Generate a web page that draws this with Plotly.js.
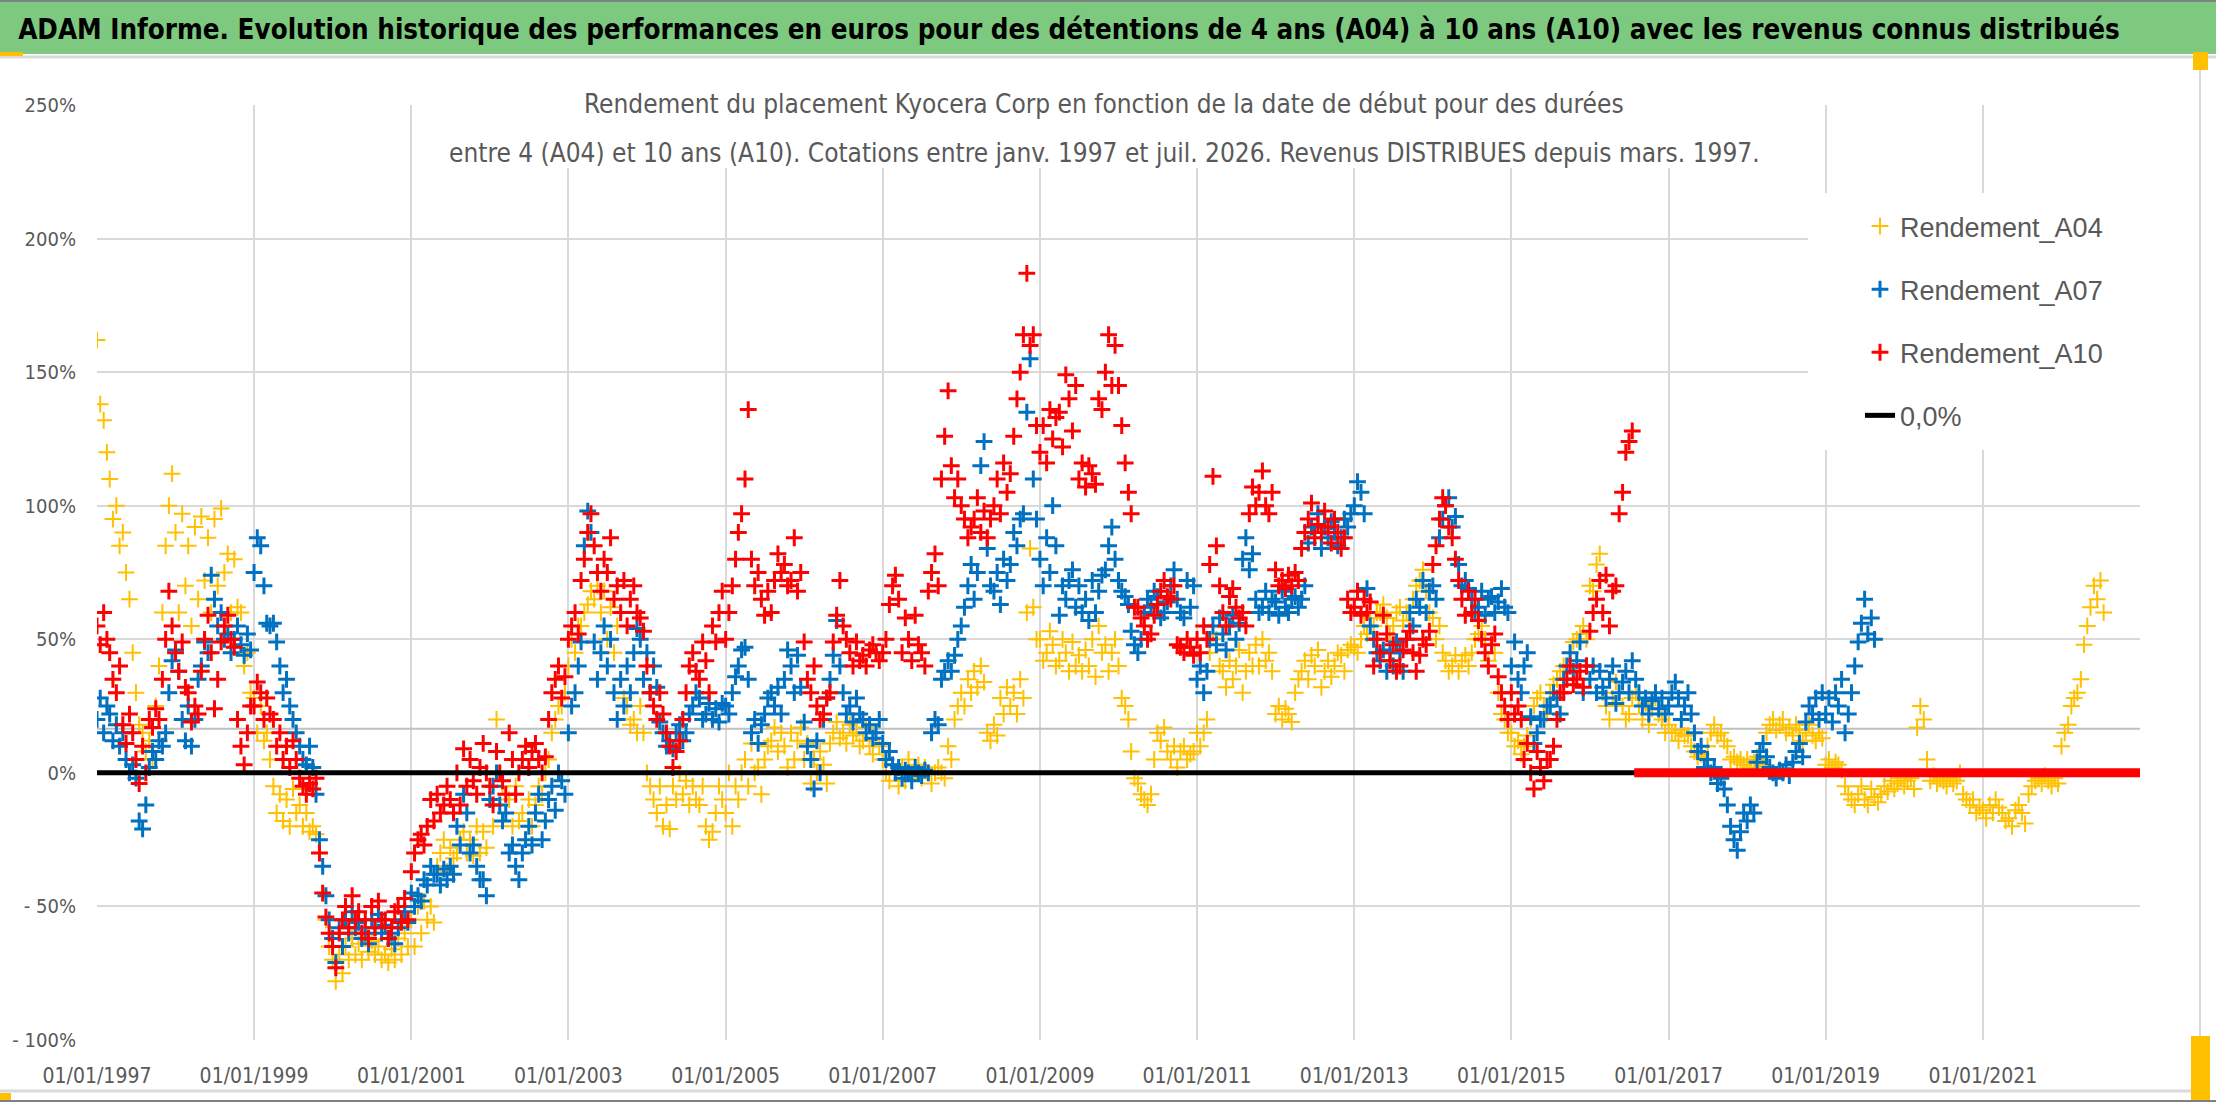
<!DOCTYPE html>
<html>
<head>
<meta charset="utf-8">
<script src="https://cdn.plot.ly/plotly-3.0.1.min.js"></script>
<style>
  html, body { margin: 0; padding: 0; background: #ffffff; }
  #chart { width: 2216px; height: 1102px; }
</style>
</head>
<body>
<div id="chart"></div>
<script>
// Rendement (%), two readings per month (1st and 16th), from janv. 1997
const a04Values = [
  162,138,132,120,110,95,100,85,90,75,65,45,30,18,15,8,12,5,25,40,60,85,100,112,
  90,60,97,70,85,55,92,65,96,72,88,60,95,70,99,75,82,60,80,62,60,40,45,30,
  28,15,25,12,15,5,-5,-15,-8,-18,-10,-20,-6,-15,-12,-20,-15,-22,-20,-23,-30,-45,-55,-65,
  -70,-78,-68,-75,-65,-70,-62,-68,-64,-70,-62,-67,-63,-68,-65,-70,-68,-71,-66,-70,-62,-68,-60,-65,
  -55,-65,-50,-60,-48,-55,-50,-56,-35,-30,-25,-37,-28,-32,-30,-25,-22,-30,-25,-31,-20,-30,-22,-28,
  -10,-20,20,0,-5,-15,-10,-20,-5,-18,-15,-25,-10,-20,-12,-5,-8,0,5,15,20,25,25,30,
  40,50,45,55,55,60,63,68,65,70,60,68,50,62,45,55,35,28,25,18,20,15,25,15,
  0,-5,-10,-15,-5,-20,-12,-21,-5,-10,0,-8,-3,-12,-5,-10,-12,-5,-20,-25,-22,-15,-5,-10,
  -15,0,-20,-5,-10,0,5,-5,11,0,2,-8,5,10,12,17,8,15,10,2,15,5,12,17,
  5,11,-4,5,0,8,3,-4,11,15,19,13,15,11,18,14,15,10,12,17,10,7,15,10,
  5,0,-3,3,0,-5,2,-3,5,-2,0,3,-2,2,0,-4,0,2,0,-2,10,5,20,25,
  30,25,35,30,38,32,40,34,15,12,18,14,28,22,32,25,30,22,35,28,60,84,62,50,
  50,42,45,53,48,40,42,50,45,38,49,40,44,38,46,40,50,36,55,45,48,38,45,50,
  40,28,25,20,8,-2,-4,-8,-10,-12,-8,5,15,12,17,8,5,10,2,8,10,5,7,8,
  15,10,15,20,45,52,50,40,38,32,42,35,40,46,30,38,45,40,48,40,50,42,45,38,
  22,25,20,24,22,19,30,35,38,42,35,44,40,46,32,38,42,36,40,45,44,38,46,48,
  47,45,50,55,52,58,55,60,60,63,58,52,55,60,62,57,60,55,65,70,72,76,68,60,
  58,50,55,45,42,38,40,44,38,42,44,40,45,50,52,55,50,42,48,45,30,22,20,15,
  15,10,12,7,10,14,20,25,28,30,25,22,30,33,35,38,40,35,45,49,50,52,55,50,
  70,68,78,82,30,25,20,28,34,30,25,20,22,28,30,25,20,26,18,24,28,22,20,15,
  18,15,15,12,16,14,14,10,8,6,7,5,10,15,18,14,15,12,10,5,6,4,5,3,
  5,2,4,6,5,3,15,18,20,16,18,20,15,17,14,18,16,12,15,18,14,12,15,13,
  3,5,2,4,3,1,-5,-8,-10,-12,-8,-5,-10,-12,-6,-9,-11,-8,-5,-7,-3,-6,-4,-2,
  -5,-3,-2,-6,17,25,20,5,-3,-1,-4,-2,-3,-5,-2,-4,-3,0,-8,-10,-12,-10,-15,-13,
  -14,-17,-12,-15,-10,-13,-15,-18,-17,-20,-14,-12,-15,-19,-8,-5,-3,-2,-4,-1,-3,-5,-2,-4,
  10,15,18,25,28,30,35,48,55,62,70,65,72,60
];

const a07Values = [
  20,28,15,25,22,12,18,10,15,5,0,3,-2,-18,-21,-12,2,8,5,12,10,15,30,42,
  46,38,20,12,25,10,20,35,40,49,45,74,65,55,60,50,52,45,50,55,48,44,52,46,
  75,88,85,70,56,55,56,49,40,30,35,25,20,15,10,5,3,10,2,-8,-25,-35,-46,-55,
  -62,-71,-58,-65,-55,-60,-52,-58,-56,-62,-60,-64,-55,-58,-53,-60,-57,-62,-60,-64,-58,-55,-52,-56,
  -45,-50,-46,-48,-40,-42,-35,-38,-38,-42,-36,-40,-35,-38,-20,-27,-8,-15,-30,-27,-35,-40,-40,-46,
  -10,-5,0,-12,-18,-15,-30,-27,-35,-40,-30,-25,-20,-27,-15,-8,-25,-18,-10,-5,-14,0,-3,-8,
  15,25,30,40,49,85,98,90,49,35,45,55,40,50,30,20,35,25,40,30,45,54,50,35,
  45,30,40,32,19,15,10,12,9,15,18,12,15,22,25,30,28,20,22,26,20,24,19,26,
  25,22,30,36,40,46,47,35,15,20,11,18,22,28,30,25,32,22,35,46,40,30,44,32,
  19,10,5,-6,12,0,20,28,35,44,57,40,30,22,25,19,28,22,20,15,18,13,15,20,
  11,5,8,3,0,2,-2,1,0,-3,2,0,-1,1,0,15,20,18,35,38,42,38,44,50,
  55,62,70,78,65,75,115,124,84,70,68,75,63,80,72,78,90,85,95,97,135,155,110,95,
  80,70,88,75,100,85,59,70,65,72,76,62,70,60,65,57,72,60,68,74,76,85,92,80,
  72,68,66,63,53,48,45,50,60,65,62,68,66,58,60,64,70,76,65,60,58,72,62,70,
  35,40,30,38,50,55,48,58,52,46,55,59,50,56,80,88,76,82,65,60,62,68,60,65,
  64,59,68,62,60,65,66,62,65,70,86,92,90,97,84,92,88,94,90,85,88,95,92,97,
  100,109,105,97,69,55,50,45,42,46,38,45,40,49,45,38,50,60,55,65,62,72,60,68,
  70,65,88,95,100,103,92,96,78,70,72,69,65,60,62,68,59,65,66,60,64,69,62,60,
  40,49,35,30,40,45,21,11,15,20,20,25,25,30,28,22,35,40,45,38,42,49,30,40,
  35,40,30,38,32,28,35,40,26,30,34,38,30,42,35,30,25,28,22,27,30,24,28,22,
  25,30,34,28,20,25,30,22,15,8,10,2,5,0,2,-4,-2,-6,-12,-20,-25,-29,-22,-15,
  -18,-12,-15,4,8,11,6,2,0,-2,1,0,3,-1,4,8,11,6,19,25,22,28,20,30,
  22,28,19,30,25,35,15,22,30,40,49,56,65,52,58,50
];

const a10Values = [
  55,48,60,50,45,35,30,40,18,11,22,15,5,-4,10,0,20,17,24,20,35,50,68,55,
  45,38,49,32,30,19,25,22,38,50,59,45,24,35,49,55,59,50,47,20,10,3,15,25,
  25,34,30,20,28,22,20,10,15,5,10,2,12,5,-2,-5,-8,-4,-6,-2,-30,-45,-54,-60,
  -65,-73,-60,-55,-50,-58,-46,-55,-52,-60,-55,-62,-50,-58,-48,-55,-55,-62,-58,-52,-50,-56,-47,-55,
  -37,-30,-25,-23,-27,-20,-10,-18,-8,-15,-12,-5,-10,-15,0,-12,9,-5,5,-3,-8,2,11,0,
  -5,-12,8,0,-3,-8,15,5,-8,0,5,10,2,8,11,5,0,6,20,30,35,40,28,36,
  50,55,60,52,72,80,90,97,85,75,68,80,75,88,65,70,60,72,55,65,70,60,58,53,
  40,30,25,20,30,22,15,10,2,8,12,20,30,40,45,38,35,49,42,30,55,49,60,68,
  50,60,70,80,90,97,110,136,80,70,75,65,59,68,60,72,82,75,78,70,72,88,68,75,
  49,35,30,40,25,20,22,28,30,49,59,72,55,50,45,40,49,42,44,40,46,48,45,42,
  45,50,63,70,74,65,45,58,50,42,59,48,45,40,68,75,82,70,110,126,143,115,103,110,
  100,95,88,92,95,103,90,98,88,95,100,110,97,116,105,112,126,140,150,164,187,160,164,130,
  120,130,116,136,125,133,135,122,149,140,128,145,110,116,107,115,112,108,140,136,150,164,145,160,
  145,130,116,105,97,62,62,58,55,50,52,59,63,68,72,66,65,70,48,47,45,50,47,44,
  50,45,55,50,78,111,85,70,60,55,66,69,62,58,60,55,97,107,100,105,113,100,97,105,
  76,70,72,69,74,70,75,72,84,90,95,101,88,93,90,98,92,86,95,90,84,88,65,60,
  62,68,59,65,60,64,40,50,45,59,52,42,48,38,40,46,50,53,45,38,44,50,48,53,
  78,85,95,103,100,92,88,80,72,65,59,68,60,65,57,50,45,40,48,52,36,30,25,20,
  30,22,25,20,5,11,0,-6,8,2,-3,5,5,10,20,30,30,35,40,33,35,38,32,40,
  53,60,65,72,60,74,55,68,70,97,105,120,124,128
];

// after juil. 2016 the 10-year return is shown at 0
const a10ZeroDates = ['2016-07-25', '2023-01-01'];
const a10ZeroValues = [0, 0];

const zeroDates = ['1997-01-01', '2023-01-01'];
const zeroValues = [0, 0];

// grey level line across the plot
const levelDates = ['1997-01-01', '2023-01-01'];
const levelValues = [16.5, 16.5];

const xTickYears = [1997, 1999, 2001, 2003, 2005, 2007, 2009, 2011, 2013, 2015, 2017, 2019, 2021];
const yTickValues = [-100, -50, 0, 50, 100, 150, 200, 250];
const yTickLabels = ['- 100%', '- 50%', '0%', '50%', '100%', '150%', '200%', '250%'];

const NARROW = '"Liberation Sans Narrow", "Arial Narrow", "DejaVu Sans Condensed", sans-serif';
const GREY_TEXT = '#595959';

// plot area in page pixels
const PLOT = { left: 97, right: 2140, top: 105, bottom: 1040 };
const W = 2216, H = 1102;
const px = (x) => (x - PLOT.left) / (PLOT.right - PLOT.left);
const py = (y) => (PLOT.bottom - y) / (PLOT.bottom - PLOT.top);

const halfMonthDates = (startYear, count) => {
    const dates = [];
    for (let i = 0; i < count; i++) {
        const m = Math.floor(i / 2);
        const year = startYear + Math.floor(m / 12);
        const month = String(m % 12 + 1).padStart(2, '0');
        dates.push(`${year}-${month}-${i % 2 ? '16' : '01'}`);
    }
    return dates;
};

const crossSeries = (name, values, color, width) => ({
    type: 'scatter',
    mode: 'markers',
    name: name,
    legendgroup: name,
    x: halfMonthDates(1997, values.length),
    y: values,
    marker: { symbol: 'cross-thin', size: 12, color: color, line: { color: color, width: width } },
    hoverinfo: 'x+y'
});

const data = [
    {
        type: 'scatter', mode: 'lines', x: levelDates, y: levelValues,
        line: { color: '#bfbfbf', width: 2 }, showlegend: false, hoverinfo: 'skip'
    },
    crossSeries('Rendement_A04', a04Values, '#FFC000', 2),
    crossSeries('Rendement_A07', a07Values, '#0070C0', 3),
    crossSeries('Rendement_A10', a10Values, '#FF0000', 3),
    {
        type: 'scatter', mode: 'lines', name: '0,0%', legendgroup: 'zero',
        x: zeroDates, y: zeroValues, line: { color: '#000000', width: 5 }
    },
    {
        type: 'scatter', mode: 'lines', x: a10ZeroDates, y: a10ZeroValues,
        line: { color: '#FF0000', width: 9 }, showlegend: false, hoverinfo: 'skip'
    }
];

const rect = (x0, y0, x1, y1, fill) => ({
    type: 'rect', xref: 'paper', yref: 'paper', layer: 'above',
    x0: px(x0), x1: px(x1), y0: py(y1), y1: py(y0),
    fillcolor: fill, line: { width: 0 }
});
const hline = (x0, x1, y, color, width) => ({
    type: 'line', xref: 'paper', yref: 'paper', layer: 'above',
    x0: px(x0), x1: px(x1), y0: py(y), y1: py(y), line: { color: color, width: width }
});
const vline = (x, y0, y1, color, width) => ({
    type: 'line', xref: 'paper', yref: 'paper', layer: 'above',
    x0: px(x), x1: px(x), y0: py(y0), y1: py(y1), line: { color: color, width: width }
});

const layout = {
    width: W,
    height: H,
    margin: { l: PLOT.left, r: W - PLOT.right, t: PLOT.top, b: H - PLOT.bottom, autoexpand: false },
    paper_bgcolor: '#ffffff',
    plot_bgcolor: '#ffffff',
    showlegend: true,
    title: {
        text: '<b>ADAM Informe. Evolution historique des performances en euros pour des détentions de 4 ans (A04) à 10 ans (A10) avec les revenus connus distribués</b>',
        x: 1069 / W, xanchor: 'center',
        y: 1 - 29 / H, yanchor: 'middle',
        font: { family: NARROW, size: 27.5, color: '#000000' }
    },
    xaxis: {
        type: 'date',
        range: ['1997-01-01', '2023-01-01'],
        tickmode: 'array',
        tickvals: xTickYears.map(y => `${y}-01-01`),
        ticktext: xTickYears.map(y => `01/01/${y}`),
        showgrid: true, gridcolor: '#d9d9d9', gridwidth: 2,
        zeroline: false, showline: false,
        ticks: 'outside', ticklen: 17, tickcolor: 'rgba(0,0,0,0)',
        tickfont: { family: NARROW, size: 21, color: GREY_TEXT }
    },
    yaxis: {
        range: [-100, 250],
        tickmode: 'array',
        tickvals: yTickValues,
        ticktext: yTickLabels,
        showgrid: true, gridcolor: '#d9d9d9', gridwidth: 2,
        zeroline: false, showline: false,
        ticks: 'outside', ticklen: 16, tickcolor: 'rgba(0,0,0,0)',
        tickfont: { family: NARROW, size: 20, color: GREY_TEXT }
    },
    legend: {
        x: px(1860), xanchor: 'left',
        y: py(202), yanchor: 'top',
        bgcolor: 'rgba(0,0,0,0)',
        traceorder: 'grouped',
        tracegroupgap: 25,
        font: { family: '"Liberation Sans", Arial, sans-serif', size: 27, color: GREY_TEXT }
    },
    annotations: [
        {
            xref: 'paper', yref: 'paper', x: px(1104), y: py(104),
            xanchor: 'center', yanchor: 'middle', showarrow: false,
            text: 'Rendement du placement Kyocera Corp en fonction de la date de début pour des durées',
            font: { family: NARROW, size: 26, color: GREY_TEXT }
        },
        {
            xref: 'paper', yref: 'paper', x: px(1104), y: py(153),
            xanchor: 'center', yanchor: 'middle', showarrow: false,
            text: 'entre 4 (A04) et 10 ans (A10). Cotations entre janv. 1997 et juil. 2026. Revenus DISTRIBUES depuis mars. 1997.',
            font: { family: NARROW, size: 26, color: GREY_TEXT }
        }
    ],
    shapes: [
        // header band
        rect(0, 0, W, 54, '#7DC97F'),
        hline(0, W, 1, '#808080', 2),
        hline(0, W, 57, '#d9d9d9', 3),
        // chart frame
        vline(2200, 57, 1092, '#d9d9d9', 2),
        hline(0, 2200, 1091, '#d9d9d9', 3),
        hline(0, W, 1101, '#808080', 2),
        // white boxes behind the subtitle and the legend
        rect(442, 92, 1765, 168, '#ffffff'),
        rect(1808, 193, 2140, 450, '#ffffff'),
        // selection handles
        rect(0, 52, 23, 56, '#FFC000'),
        rect(0, 1093, 11, 1100, '#FFC000'),
        rect(2193, 52, 2208, 70, '#FFC000'),
        rect(2191, 1036, 2210, 1100, '#FFC000')
    ]
};

Plotly.newPlot('chart', data, layout, { displayModeBar: false, staticPlot: true });
</script>
</body>
</html>
